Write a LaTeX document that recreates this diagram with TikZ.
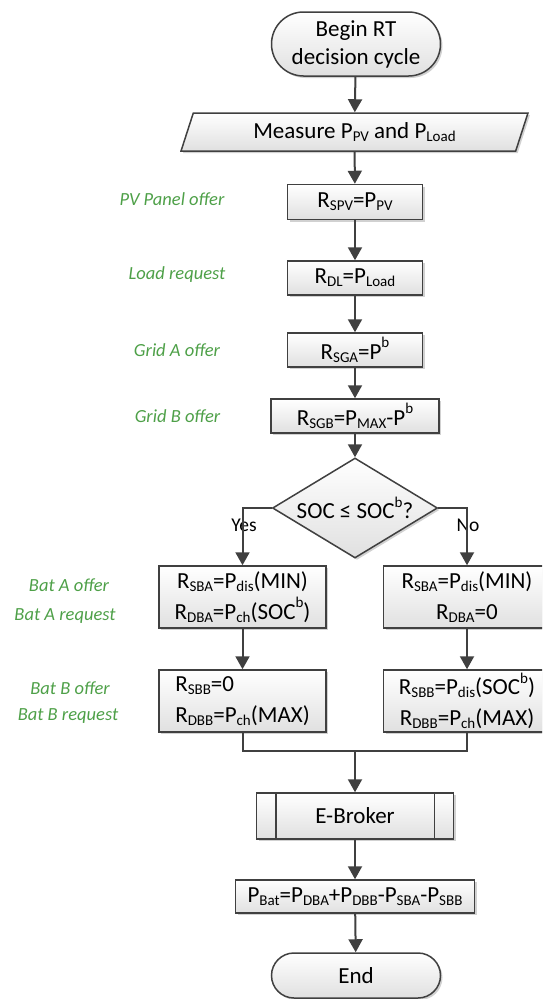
\documentclass[tikz,border=0pt]{standalone}
\usepackage{fontspec}
\setmainfont{Carlito}
\usetikzlibrary{shapes.geometric,shapes.misc,shadows,arrows.meta}

\definecolor{linegray}{RGB}{64,64,64}
\definecolor{labelgreen}{RGB}{78,160,72}
\definecolor{boxbottom}{RGB}{224,224,224}

% lowered and raised indices in text size
\newcommand\lo[1]{\raisebox{-0.13em}{\fontsize{15}{15}\selectfont #1}}
\newcommand\hi[1]{\raisebox{0.5em}{\fontsize{15}{15}\selectfont #1}}

\tikzset{
  box/.style={draw=linegray, line width=1.5pt, top color=white, bottom color=boxbottom,
    drop shadow={shadow xshift=2pt, shadow yshift=-2pt, fill=black, opacity=0.18},
    inner sep=0pt, align=center, text=black, font=\fontsize{23}{31}\selectfont},
  proc/.style={box, rectangle, minimum width=135pt, minimum height=34pt},
  twoline/.style={proc, minimum width=167pt, minimum height=62pt},
  term/.style={box, rounded rectangle, minimum width=169pt},
  iobox/.style={box, trapezium, trapezium left angle=68, trapezium right angle=112,
    trapezium stretches=true, minimum width=348pt, minimum height=38pt},
  decision/.style={box, diamond, shape aspect=1.65, minimum width=165pt, minimum height=100pt},
  role/.style={text=labelgreen, font=\fontsize{18.5}{22}\selectfont\itshape, inner sep=0pt},
  branchlabel/.style={text=black, font=\fontsize{19.5}{22}\selectfont, inner sep=0pt},
  line/.style={draw=linegray, line width=2pt},
  arr/.style={line, -{Triangle[width=14pt,length=13pt]}}
}

\begin{document}
\begin{tikzpicture}[x=1pt,y=-1pt]
\path[use as bounding box] (0,0) rectangle (542,999);
\clip (0,0) rectangle (542,999);

% main column
\node[term, minimum height=64pt, font=\fontsize{23}{28}\selectfont] (start) at (356,44) {Begin RT\\decision cycle};
\node[iobox] (meas) at (354.5,132) {Measure P\lo{PV} and P\lo{Load}};
\node[proc, minimum height=35pt] (spv) at (355,202) {R\lo{SPV}=P\lo{PV}};
\node[proc] (dl) at (355,278) {R\lo{DL}=P\lo{Load}};
\node[proc] (sga) at (355,350) {R\lo{SGA}=P\hi{b}};
\node[proc, minimum width=168pt] (sgb) at (355,416) {R\lo{SGB}=P\lo{MAX}-P\hi{b}};
\node[decision] (dec) at (355,508) {SOC ≤ SOC\hi{b}?};

% two branches
\node[twoline] (baL) at (242.5,597) {R\lo{SBA}=P\lo{dis}(MIN)\\R\lo{DBA}=P\lo{ch}(SOC\hi{b})};
\node[twoline] (baR) at (467,597) {R\lo{SBA}=P\lo{dis}(MIN)\\R\lo{DBA}=0};
\node[twoline, align=left] (bbL) at (242.5,701) {R\lo{SBB}=0\\R\lo{DBB}=P\lo{ch}(MAX)};
\node[twoline] (bbR) at (467,701) {R\lo{SBB}=P\lo{dis}(SOC\hi{b})\\R\lo{DBB}=P\lo{ch}(MAX)};
\coordinate (mj) at (355,751);

% broker and result
\node[proc, minimum width=197pt, minimum height=46pt] (eb) at (355,816) {E-Broker};
\draw[line, line width=1.5pt] ([xshift=20pt]eb.north west) -- ([xshift=20pt]eb.south west);
\draw[line, line width=1.5pt] ([xshift=-20pt]eb.north east) -- ([xshift=-20pt]eb.south east);
\node[proc, minimum width=239pt, minimum height=33pt] (pbat) at (355,896.5) {P\lo{Bat}=P\lo{DBA}+P\lo{DBB}-P\lo{SBA}-P\lo{SBB}};
\node[term, minimum height=45pt] (end) at (356,975.5) {End};

% side notes
\node[role] (pvoff) at (172,199) {PV Panel offer};
\node[role] (ldreq) at (177,275) {Load request};
\node[role] (gaoff) at (177,350) {Grid A offer};
\node[role] (gboff) at (177.5,416) {Grid B offer};
\node[role] (baoff) at (69,585) {Bat A offer};
\node[role] (bareq) at (65,616) {Bat A request};
\node[role] (bboff) at (70,688) {Bat B offer};
\node[role] (bbreq) at (68,716) {Bat B request};

\node[branchlabel] (yes) at (244,525) {Yes};
\node[branchlabel] (no) at (468,525) {No};

% connectors
\draw[arr] (start) -- (meas);
\draw[arr] (meas) -- (spv);
\draw[arr] (spv) -- (dl);
\draw[arr] (dl) -- (sga);
\draw[arr] (sga) -- (sgb);
\draw[arr] (sgb) -- (dec);
\draw[arr] (dec.west) -| (baL.north);
\draw[arr] (dec.east) -| (baR.north);
\draw[arr] (baL) -- (bbL);
\draw[arr] (baR) -- (bbR);
\draw[line] (bbL.south) |- (mj);
\draw[line] (bbR.south) |- (mj);
\draw[arr] (mj) -- (eb.north);
\draw[arr] (eb) -- (pbat);
\draw[arr] (pbat) -- (end);
\end{tikzpicture}
\end{document}
